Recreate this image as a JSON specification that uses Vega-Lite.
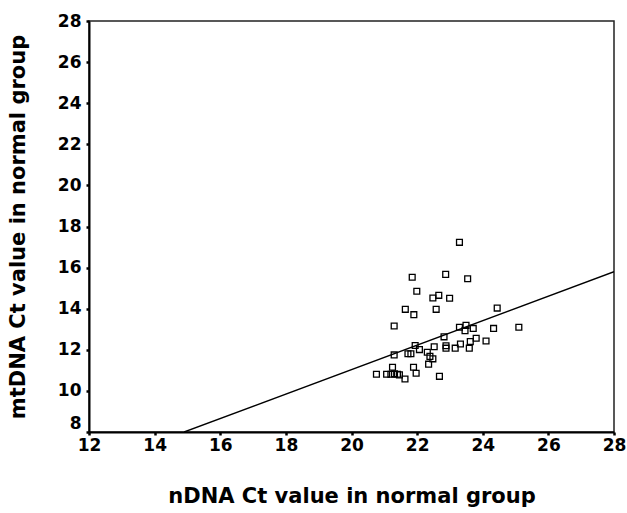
{
  "$schema": "https://vega.github.io/schema/vega-lite/v6.json",
  "width": 525,
  "height": 411,
  "autosize": "none",
  "padding": {"left": 89, "top": 21, "right": 13, "bottom": 81},
  "background": "white",
  "config": {
    "view": {"stroke": "#222", "strokeWidth": 1.5},
    "font": "DejaVu Sans",
    "axis": {
      "grid": false,
      "domainColor": "#000",
      "domainWidth": 2,
      "tickColor": "#000",
      "tickWidth": 2.5,
      "tickSize": 3,
      "labelFont": "DejaVu Sans",
      "labelFontWeight": "bold",
      "labelFontSize": 17,
      "labelColor": "#000",
      "titleFont": "DejaVu Sans",
      "titleFontWeight": "bold",
      "titleFontSize": 21,
      "titleColor": "#000"
    }
  },
  "datasets": {
    "points": [
      {"nDNA": 23.29, "mtDNA": 17.23},
      {"nDNA": 21.85, "mtDNA": 15.53},
      {"nDNA": 22.87, "mtDNA": 15.67},
      {"nDNA": 23.54, "mtDNA": 15.46},
      {"nDNA": 21.99, "mtDNA": 14.85},
      {"nDNA": 22.48, "mtDNA": 14.52},
      {"nDNA": 22.66, "mtDNA": 14.65},
      {"nDNA": 22.99, "mtDNA": 14.51},
      {"nDNA": 21.64, "mtDNA": 13.97},
      {"nDNA": 21.90, "mtDNA": 13.71},
      {"nDNA": 22.58, "mtDNA": 13.97},
      {"nDNA": 24.44, "mtDNA": 14.03},
      {"nDNA": 21.30, "mtDNA": 13.16},
      {"nDNA": 23.29, "mtDNA": 13.10},
      {"nDNA": 23.49, "mtDNA": 13.19},
      {"nDNA": 23.46, "mtDNA": 12.93},
      {"nDNA": 23.71, "mtDNA": 13.04},
      {"nDNA": 24.33, "mtDNA": 13.04},
      {"nDNA": 25.10, "mtDNA": 13.10},
      {"nDNA": 22.82, "mtDNA": 12.63},
      {"nDNA": 22.88, "mtDNA": 12.20},
      {"nDNA": 22.88, "mtDNA": 12.08},
      {"nDNA": 23.16, "mtDNA": 12.08},
      {"nDNA": 23.32, "mtDNA": 12.28},
      {"nDNA": 23.59, "mtDNA": 12.08},
      {"nDNA": 23.62, "mtDNA": 12.40},
      {"nDNA": 23.80, "mtDNA": 12.56},
      {"nDNA": 24.10, "mtDNA": 12.43},
      {"nDNA": 22.68, "mtDNA": 10.71},
      {"nDNA": 21.94, "mtDNA": 12.21},
      {"nDNA": 21.30, "mtDNA": 11.75},
      {"nDNA": 21.72, "mtDNA": 11.81},
      {"nDNA": 21.81, "mtDNA": 11.81},
      {"nDNA": 22.07, "mtDNA": 12.01},
      {"nDNA": 22.31, "mtDNA": 11.88},
      {"nDNA": 22.52, "mtDNA": 12.15},
      {"nDNA": 22.39, "mtDNA": 11.68},
      {"nDNA": 22.48, "mtDNA": 11.56},
      {"nDNA": 22.35, "mtDNA": 11.30},
      {"nDNA": 21.25, "mtDNA": 11.15},
      {"nDNA": 21.89, "mtDNA": 11.15},
      {"nDNA": 20.76, "mtDNA": 10.81},
      {"nDNA": 21.07, "mtDNA": 10.81},
      {"nDNA": 21.20, "mtDNA": 10.81},
      {"nDNA": 21.31, "mtDNA": 10.83},
      {"nDNA": 21.40, "mtDNA": 10.81},
      {"nDNA": 21.46, "mtDNA": 10.78},
      {"nDNA": 21.63, "mtDNA": 10.58},
      {"nDNA": 21.97, "mtDNA": 10.86}
    ],
    "fit": [
      {"nDNA": 14.9, "mtDNA": 8.0},
      {"nDNA": 28.0, "mtDNA": 15.8}
    ]
  },
  "layer": [
    {
      "data": {"name": "fit"},
      "mark": {"type": "line", "color": "#000", "strokeWidth": 1.4, "clip": true},
      "encoding": {
        "x": {
          "field": "nDNA", "type": "quantitative",
          "scale": {"domain": [12, 28], "nice": false, "zero": false},
          "axis": {"values": [12, 14, 16, 18, 20, 22, 24, 26, 28], "title": "nDNA Ct value in normal group", "labelPadding": 2, "titlePadding": 32, "labelFlush": false}
        },
        "y": {
          "field": "mtDNA", "type": "quantitative",
          "scale": {"domain": [8, 28], "nice": false, "zero": false},
          "axis": {
            "values": [8, 10, 12, 14, 16, 18, 20, 22, 24, 26, 28],
            "title": "mtDNA Ct value in normal group",
            "labelPadding": 5,
            "titlePadding": 29,
            "labelFlush": false,
            "labelOffset": {"condition": {"test": "datum.value === 8", "value": -9}, "value": 0}
          }
        }
      }
    },
    {
      "data": {"name": "points"},
      "mark": {"type": "point", "shape": "square", "filled": false, "color": "#000", "size": 34, "strokeWidth": 1.3, "opacity": 1},
      "encoding": {
        "x": {"field": "nDNA", "type": "quantitative"},
        "y": {"field": "mtDNA", "type": "quantitative"}
      }
    }
  ]
}
